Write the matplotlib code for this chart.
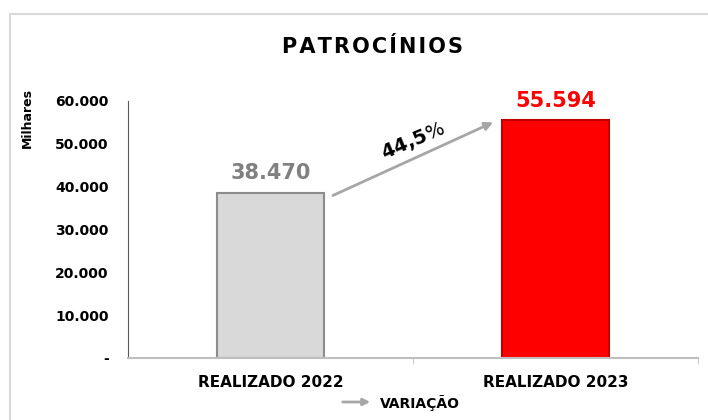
import matplotlib
matplotlib.use('Agg')
import matplotlib.pyplot as plt
from matplotlib.patches import Rectangle, FancyArrowPatch

categorias = ['REALIZADO 2022', 'REALIZADO 2023']
valores = [38470, 55594]
rotulos = ['38.470', '55.594']
variacao = '44,5'
yticks = [0, 10000, 20000, 30000, 40000, 50000, 60000]
ytick_labels = ['-', '10.000', '20.000', '30.000', '40.000', '50.000', '60.000']

plt.rcParams['font.family'] = ['DejaVu Sans']

fig = plt.figure(figsize=(7.08, 4.20), dpi=100)
ax = fig.add_axes([128/708, 1 - 358/420, 570/708, 257/420])

# moldura cinza clara
fig.patches.append(Rectangle((10/708, -0.1), 1.0, 1 - 14/420 + 0.1, transform=fig.transFigure,
                             fill=False, edgecolor='#d9d9d9', lw=1.5))

x = [0, 1]
ax.bar(x[0], valores[0], width=0.375, color='#d9d9d9', edgecolor='#8c8c8c', lw=1.5)
ax.bar(x[1], valores[1], width=0.375, color='#ff0000', edgecolor='#c00000', lw=1.5)

ax.text(x[0], valores[0] + 2300, rotulos[0], ha='center', va='bottom', fontsize=15,
        fontweight='bold', color='#808080')
ax.text(x[1], valores[1] + 2000, rotulos[1], ha='center', va='bottom', fontsize=15,
        fontweight='bold', color='#ff0000')

# seta de variação
ax.annotate('', xy=(x[1] - 0.21, valores[1] - 300), xytext=(x[0] + 0.21, valores[0] - 800),
            arrowprops=dict(arrowstyle='-|>', color='#a6a6a6', lw=2, mutation_scale=12))
ax.text(0.50, 50700, r'$\mathbf{' + variacao.replace(',', '{,}') + r'}$%', rotation=23,
        ha='center', va='center', fontsize=14, color='black')

ax.set_xlim(-0.5, 1.5)
ax.set_ylim(0, 60000)
ax.set_yticks(yticks)
ax.set_yticklabels(ytick_labels, fontsize=10, fontweight='bold')
ax.tick_params(axis='y', length=0, pad=14)
ax.set_xticks(x)
ax.set_xticklabels(categorias, fontsize=11, fontweight='bold')
ax.tick_params(axis='x', length=0, pad=12)
ax.set_xticks([0.5, 1.5], minor=True)
ax.tick_params(axis='x', which='minor', length=4, color='#bfbfbf')

for s in ['top', 'right']:
    ax.spines[s].set_visible(False)
ax.spines['left'].set_color('#595959')
ax.spines['bottom'].set_color('#bfbfbf')
ax.spines['bottom'].set_linewidth(1.5)

fig.text(27/708, 1 - 118/420, 'Milhares', rotation=90, ha='center', va='center',
         fontsize=9, fontweight='bold')
fig.text(372/708, 1 - 47/420, '\u200a'.join('PATROCÍNIOS'), ha='center', va='center',
         fontsize=15, fontweight='bold')

# legenda
fig.patches.append(FancyArrowPatch((340/708, 1 - 402/420), (373/708, 1 - 402/420),
                   transform=fig.transFigure, arrowstyle='-|>', color='#a6a6a6', lw=2,
                   mutation_scale=10))
fig.text(380/708, 1 - 403/420, 'VARIAÇÃO', ha='left', va='center', fontsize=10, fontweight='bold')

fig.savefig('out.png', dpi=100)
